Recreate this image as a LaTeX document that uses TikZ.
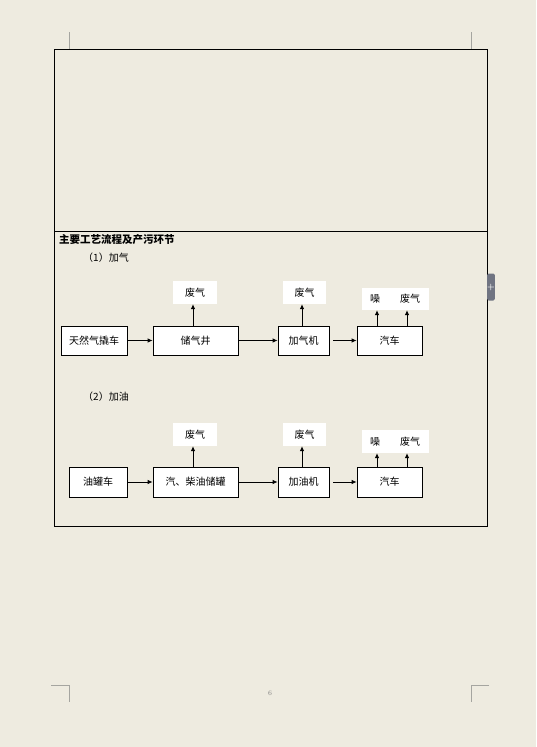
\documentclass[tikz,border=0pt]{standalone}
\usepackage{fontspec}
\newfontfamily\cjk{Noto Sans CJK SC}
\usetikzlibrary{arrows.meta}
\definecolor{pagebg}{RGB}{238,235,224}
\definecolor{markgray}{RGB}{165,165,160}
\definecolor{tabgray}{RGB}{112,116,130}
\tikzset{
  procbox/.style={draw=black, line width=0.8pt, fill=white, minimum height=29pt, inner sep=0pt, font=\cjk\fontsize{10}{12}\selectfont},
  outbox/.style={fill=white, draw=none, minimum height=23pt, inner sep=0pt, font=\cjk\fontsize{10}{12}\selectfont},
  outtxt/.style={inner sep=0pt, font=\cjk\fontsize{10}{12}\selectfont},
  flow/.style={line width=0.8pt, -{Latex[length=5pt,width=4.5pt]}},
  crop/.style={draw=markgray, line width=0.8pt},
  lbl/.style={inner sep=0pt, anchor=west, font=\cjk\fontsize{10}{12}\selectfont}
}
\begin{document}
\begin{tikzpicture}[x=1pt,y=-1pt]
\useasboundingbox (0,0) rectangle (536,747);
\fill[pagebg] (0,0) rectangle (536,747);
% crop marks
\draw[crop] (69,32) -- (69,49);
\draw[crop] (471,32) -- (471,49);
\draw[crop] (51,685) -- (69,685) -- (69,702);
\draw[crop] (489,685) -- (471,685) -- (471,702);
\node[inner sep=0pt, text=gray, font=\fontsize{7}{8}\selectfont] (pg) at (270,693) {6};
% frame
\draw[line width=0.9pt] (54,49) rectangle (487,526);
\draw[line width=0.9pt] (54,231) -- (487,231);
% side tab
\node[fill=tabgray, rounded corners=1.5pt, minimum width=7pt, minimum height=27pt, inner sep=0pt, text=white, font=\bfseries\fontsize{8}{8}\selectfont] (tab) at (491,287) {+};
% headings
\node[lbl, font=\cjk\bfseries\fontsize{10.5}{12}\selectfont] (h0) at (59,240) {主要工艺流程及产污环节};
\node[lbl] (h1) at (83,258) {（1）加气};
\node[lbl] (h2) at (83,397) {（2）加油};
% ---------- diagram 1 ----------
\node[procbox, minimum width=66pt] (A1) at (94,340.5) {天然气撬车};
\node[procbox, minimum width=85pt] (B1) at (195.5,340.5) {储气井};
\node[procbox, minimum width=51pt] (C1) at (303.5,340.5) {加气机};
\node[procbox, minimum width=65pt] (D1) at (389.5,340.5) {汽车};
\node[outbox, minimum width=44pt] (W1) at (195,292.5) {废气};
\node[outbox, minimum width=43pt] (W2) at (304.5,292.5) {废气};
\node[outbox, minimum width=67pt, minimum height=22pt] (W3) at (395.5,299) {};
\node[outtxt] (N1) at (375,299) {噪};
\node[outtxt] (G1) at (410,299) {废气};
\draw[flow] (A1) -- (B1);
\draw[flow] (B1) -- (C1);
\draw[flow] ([xshift=4pt]C1.east) -- (D1.west);
\draw[flow] ([xshift=-2.5pt]B1.north) -- ([xshift=-2pt]W1.south);
\draw[flow] ([xshift=-1.5pt]C1.north) -- ([xshift=-2.5pt]W2.south);
\draw[flow] (D1.north -| 377,0) -- (W3.south -| 377,0);
\draw[flow] (D1.north -| 407,0) -- (W3.south -| 407,0);
% ---------- diagram 2 ----------
\node[procbox, minimum width=58pt, minimum height=30pt] (A2) at (98,482) {油罐车};
\node[procbox, minimum width=85pt, minimum height=30pt] (B2) at (195.5,482) {汽、柴油储罐};
\node[procbox, minimum width=51pt, minimum height=30pt] (C2) at (303.5,482) {加油机};
\node[procbox, minimum width=65pt, minimum height=30pt] (D2) at (389.5,482) {汽车};
\node[outbox, minimum width=44pt] (W4) at (195,434.5) {废气};
\node[outbox, minimum width=43pt] (W5) at (304.5,434.5) {废气};
\node[outbox, minimum width=67pt] (W6) at (395.5,441.5) {};
\node[outtxt] (N2) at (375,441.5) {噪};
\node[outtxt] (G2) at (410,441.5) {废气};
\draw[flow] (A2) -- (B2);
\draw[flow] (B2) -- (C2);
\draw[flow] ([xshift=4pt]C2.east) -- (D2.west);
\draw[flow] ([xshift=-2.5pt]B2.north) -- ([xshift=-2pt]W4.south);
\draw[flow] ([xshift=-1.5pt]C2.north) -- ([xshift=-2.5pt]W5.south);
\draw[flow] (D2.north -| 377,0) -- (W6.south -| 377,0);
\draw[flow] (D2.north -| 407,0) -- (W6.south -| 407,0);
\end{tikzpicture}
\end{document}
